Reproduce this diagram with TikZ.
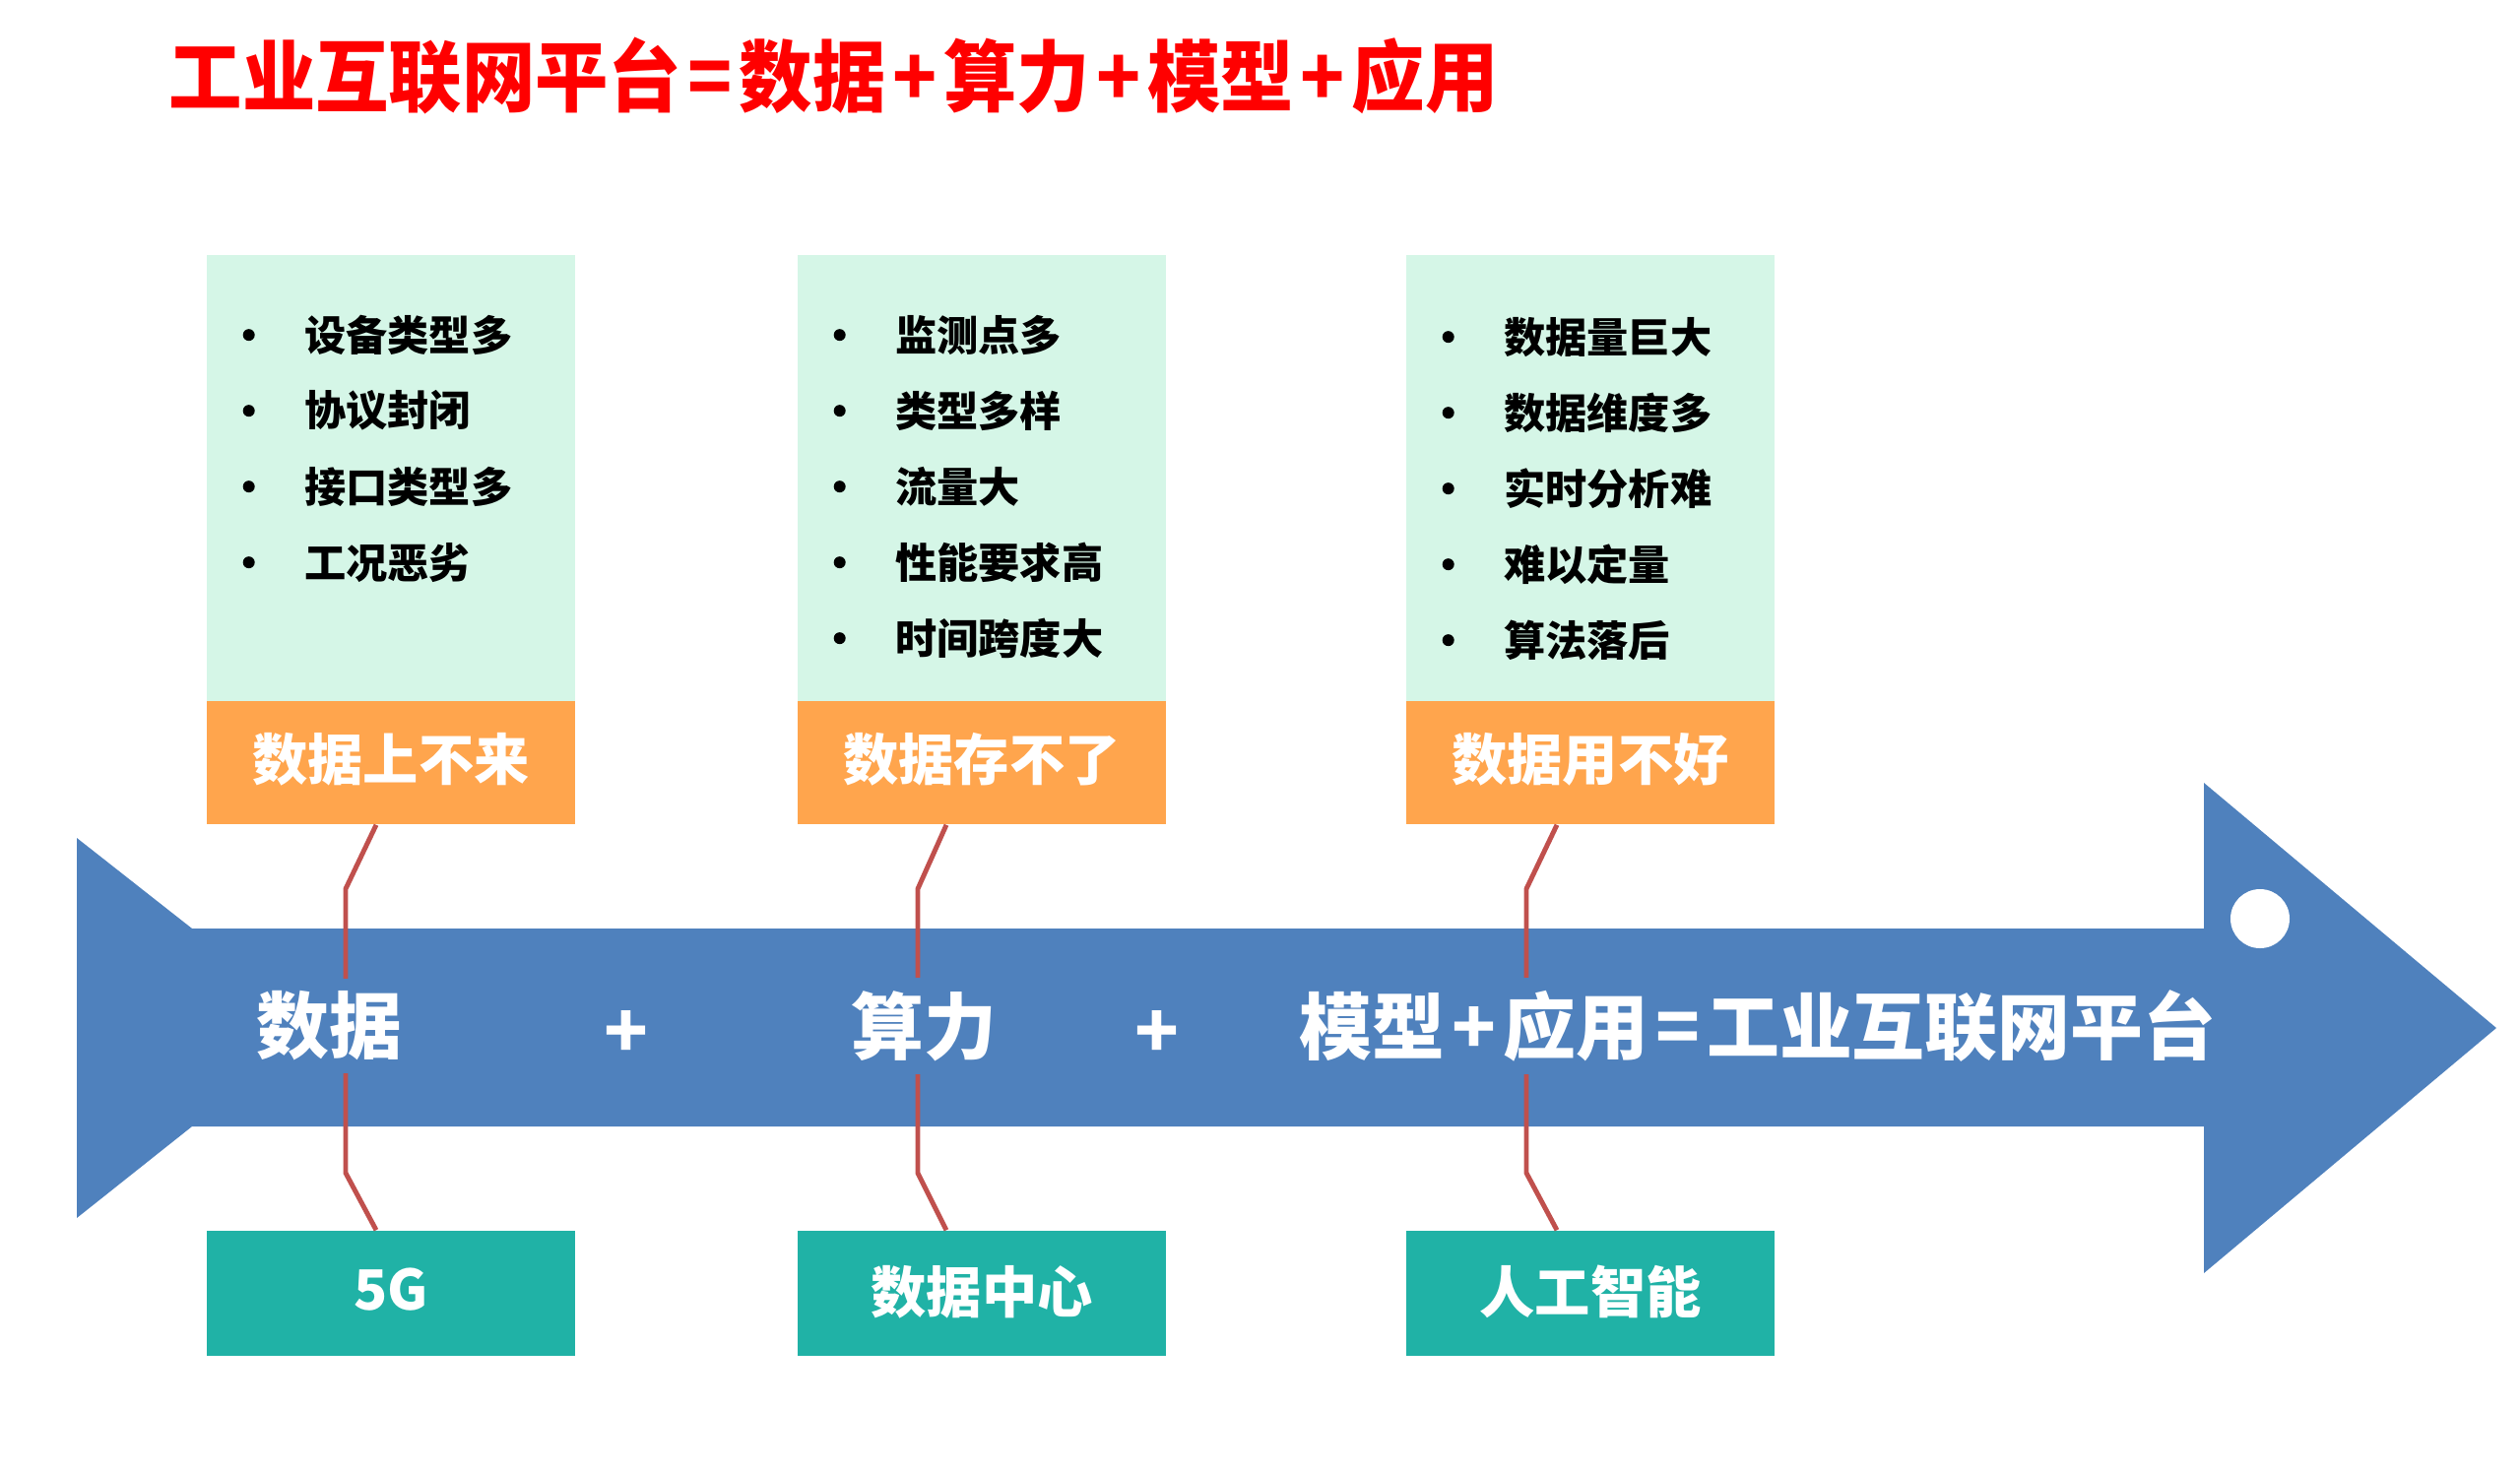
\documentclass[tikz,border=0pt]{standalone}
\usepackage{fontspec}
\usetikzlibrary{calc}
\newfontfamily\cjk{Noto Sans CJK SC}
\definecolor{arrowblue}{RGB}{79, 129, 189}
\definecolor{mintbg}{RGB}{213, 246, 231}
\definecolor{painorange}{RGB}{255, 165, 77}
\definecolor{techteal}{RGB}{32, 178, 166}
\definecolor{linkred}{RGB}{192, 80, 77}
\newcommand{\opsp}[1]{\hspace{2pt}#1\hspace{2pt}}

\begin{document}
\begin{tikzpicture}[x=0.01cm, y=-0.01cm, font=\cjk\bfseries,
    needs/.style={fill=mintbg, minimum width=3.73cm, minimum height=4.53cm, inner sep=0pt},
    pain/.style={fill=painorange, minimum width=3.73cm, minimum height=1.25cm, inner sep=0pt,
      text=white, font=\cjk\bfseries\fontsize{16pt}{18pt}\selectfont},
    tech/.style={fill=techteal, minimum width=3.73cm, minimum height=1.27cm, inner sep=0pt,
      text=white, font=\cjk\bfseries\fontsize{16pt}{18pt}\selectfont},
    item/.style={anchor=west, inner sep=0pt, font=\cjk\bfseries\fontsize{12pt}{14pt}\selectfont},
    itemdot/.style={circle, fill=black, inner sep=0pt, minimum size=0.12cm},
    link/.style={draw=linkred, line width=1.4pt},
    onarrow/.style={fill=arrowblue, text=white, inner xsep=1pt, inner ysep=3.7pt,
      font=\cjk\bfseries\fontsize{21pt}{24pt}\selectfont}]
  \useasboundingbox (0,0) rectangle (2559,1496);

  % Title
  \node[anchor=west, inner sep=0pt, text=red, font=\cjk\bfseries\fontsize{22.5pt}{26pt}\selectfont]
    (title) at (171,77) {\scalebox{0.94}[1]{工业互联网平台\opsp{=}数据\opsp{+}算力\opsp{+}模型\opsp{+}应用}};

  % Big arrow
  \fill[arrowblue] (78,851) -- (195,943) -- (2238,943) -- (2238,795) -- (2535,1044)
    -- (2238,1293) -- (2238,1144) -- (195,1144) -- (78,1237) -- cycle;
  \fill[white] (2295,933) circle (30);

  % Columns: needs, pain point, technology
  \foreach \n/\x/\pain/\tech in {1/397/数据上不来/5G, 2/997/数据存不了/数据中心, 3/1615/数据用不好/人工智能}{
    \node[needs] (g\n) at (\x,485.5) {};
    \node[pain] (o\n) at (\x,774.5) {\raisebox{3.5pt}{\pain}};
    \node[tech] (t\n) at (\x,1313.5) {\raisebox{2.5pt}{\tech}};
  }

  % Bullet lists
  \foreach \r/\txt in {1/设备类型多, 2/协议封闭, 3/接口类型多, 4/工况恶劣}{
    \node[itemdot] (g1b\r) at ($(g1.north west)+(43,{82+(\r-1)*77})$) {};
    \node[item] (g1r\r) at ($(g1.north west)+(99,{82+(\r-1)*77})$) {\txt};
  }
  \foreach \r/\txt in {1/监测点多, 2/类型多样, 3/流量大, 4/性能要求高, 5/时间跨度大}{
    \node[itemdot] (g2b\r) at ($(g2.north west)+(43,{82+(\r-1)*77})$) {};
    \node[item] (g2r\r) at ($(g2.north west)+(99,{82+(\r-1)*77})$) {\txt};
  }
  \foreach \r/\txt in {1/数据量巨大, 2/数据维度多, 3/实时分析难, 4/难以定量, 5/算法落后}{
    \node[itemdot] (g3b\r) at ($(g3.north west)+(43,{84+(\r-1)*77})$) {};
    \node[item] (g3r\r) at ($(g3.north west)+(99,{84+(\r-1)*77})$) {\txt};
  }

  % Links through the arrow
  \foreach \n/\a/\b in {1/15/46, 2/36/65, 3/34/65}{
    \draw[link] ($(o\n.south)+(-\a,0)$) -- ($(o\n.south)+(-\b,65)$)
      -- ($(t\n.north)+(-\b,-58)$) -- ($(t\n.north)+(-\a,0)$);
  }

  % Text on the arrow
  \node[onarrow] (sdata) at (334,1042) {数据};
  \node[onarrow] (plus1) at (636,1050) {+};
  \node[onarrow] (scalc) at (938,1042) {算力};
  \node[onarrow] (plus2) at (1175,1050) {+};
  \node[onarrow] (sapp) at (1785,1042) {模型\opsp{+}应用\opsp{=}工业互联网平台};
\end{tikzpicture}
\end{document}
